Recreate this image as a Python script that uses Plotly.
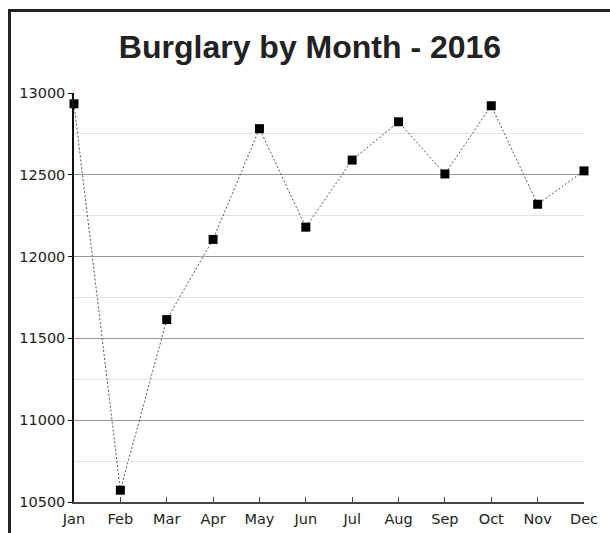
import plotly.graph_objects as go

months = ["Jan", "Feb", "Mar", "Apr", "May", "Jun", "Jul", "Aug", "Sep", "Oct", "Nov", "Dec"]
burglaries = [12934, 10572, 11615, 12105, 12782, 12180, 12590, 12824, 12505, 12922, 12320, 12524]
title_text = "Burglary by Month - 2016"
y_ticks = [10500, 11000, 11500, 12000, 12500, 13000]

W, H = 610, 533
L, T = 74, 93
R, B = 26, 31
pw, ph = W - L - R, H - T - B

fig = go.Figure()
fig.add_trace(go.Scatter(
    x=months, y=burglaries, mode="lines+markers",
    line=dict(color="#555555", width=1, dash="2px,2px"),
    marker=dict(symbol="square", size=9, color="black"),
    cliponaxis=False, showlegend=False,
))

# frame (top and left edges visible)
fx0 = (9.5 - L) / pw
fy1 = (H - B - 10.5) / ph
fig.add_shape(type="rect", xref="paper", yref="paper",
              x0=fx0, x1=1.5, y0=-0.5, y1=fy1,
              line=dict(color="#222222", width=3), layer="above")

fig.update_layout(
    width=W, height=H,
    margin=dict(l=L, r=R, t=T, b=B, pad=0, autoexpand=False),
    paper_bgcolor="white", plot_bgcolor="white",
    title=dict(text="<b>" + title_text + "</b>", x=(310 - L) / pw, xref="paper", xanchor="center",
               y=(H - 47) / H, yanchor="middle", yref="container",
               font=dict(family="Liberation Sans, Arial", size=32, color="#222222")),
    font=dict(family="DejaVu Sans", size=14.5, color="#222222"),
    xaxis=dict(type="category", range=[0, 11], showgrid=False, automargin=False,
               showline=True, linecolor="#444444", linewidth=2,
               ticks="inside", ticklen=5, tickcolor="#444444", tickwidth=1,
               ticklabelstandoff=3,
               tickfont=dict(family="DejaVu Sans", size=14.5, color="#222222"),
               fixedrange=True),
    yaxis=dict(range=[10500, 13000], tickvals=y_ticks, ticktext=[str(v) for v in y_ticks],
               automargin=False,
               showgrid=True, gridcolor="#999999", gridwidth=1,
               minor=dict(dtick=250, showgrid=True, gridcolor="#e2e2e2", gridwidth=1, ticks=""),
               showline=True, linecolor="#111111", linewidth=1.5,
               ticks="outside", ticklen=4, tickcolor="#111111", tickwidth=1,
               tickfont=dict(family="DejaVu Sans", size=14.5, color="#222222"),
               zeroline=False, fixedrange=True),
)

fig.write_html("out.html", config={"displayModeBar": False},
               post_script="document.body.style.margin='0';document.body.style.overflow='hidden';")
